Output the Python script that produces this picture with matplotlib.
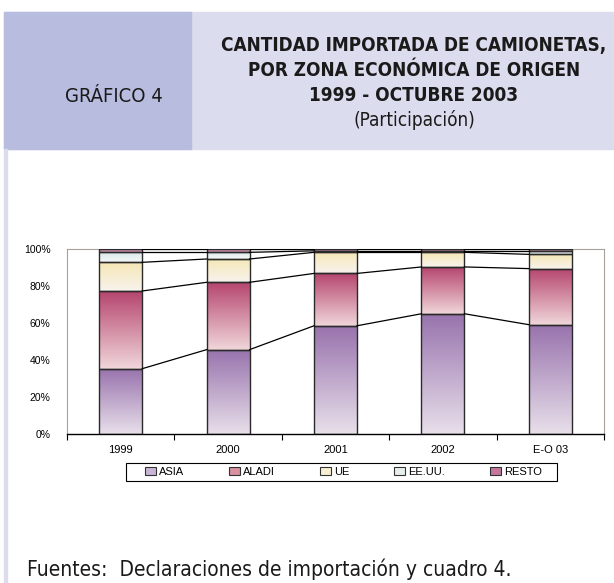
import numpy as np
import matplotlib
matplotlib.use("Agg")
import matplotlib.pyplot as plt
from matplotlib.colors import LinearSegmentedColormap
from matplotlib.patches import Rectangle

categories = ["1999", "2000", "2001", "2002", "E-O 03"]
series_names = ["ASIA", "ALADI", "UE", "EE.UU.", "RESTO"]
asia = [35.3, 45.6, 58.5, 65.0, 59.1]
aladi = [42.0, 36.4, 28.3, 25.3, 30.3]
ue = [15.5, 12.6, 11.4, 7.9, 7.7]
eeuu = [5.4, 3.6, 0.8, 0.8, 1.9]
resto = [1.8, 1.8, 1.0, 1.0, 1.0]
yticks = [0, 20, 40, 60, 80, 100]
ytick_labels = ["0%", "20%", "40%", "60%", "80%", "100%"]

values = [asia, aladi, ue, eeuu, resto]
# (top colour, bottom colour)
grad = [("#9873ad", "#e8dfea"),
        ("#b6466f", "#f0d6da"),
        ("#f5e7b5", "#f8f3ed"),
        ("#dbe8e9", "#f5f8f8"),
        ("#bb6690", "#d9a3bd")]
legend_colors = ["#c9b6d6", "#d9909f", "#f8efd2", "#e8eeee", "#c3789c"]

W, H = 614, 583
fig = plt.figure(figsize=(W / 100, H / 100), dpi=100)
fig.patch.set_facecolor("white")

def fx(px):
    return px / W

def fy(py):
    return 1 - py / H

# header band
fig.patches.append(Rectangle((fx(4), fy(149)), fx(610), (149 - 12) / H,
                             transform=fig.transFigure, color="#dcdcef", zorder=0))
fig.patches.append(Rectangle((fx(4), fy(149)), fx(187), (149 - 12) / H,
                             transform=fig.transFigure, color="#b8bcdf", zorder=0))
fig.patches.append(Rectangle((fx(4), 0), fx(3), fy(149),
                             transform=fig.transFigure, color="#dcdcef", zorder=0))

fam = ["DejaVu Sans"]
st = "condensed"
fig.text(fx(114), fy(96), "GRÁFICO 4", family=fam, stretch=st, fontsize=14.5,
         ha="center", va="center", color="#1a1a1a")
title_lines = ["CANTIDAD IMPORTADA DE CAMIONETAS,",
               "POR ZONA ECONÓMICA DE ORIGEN",
               "1999 - OCTUBRE 2003"]
ys = [45, 70, 95]
for t, yy in zip(title_lines, ys):
    fig.text(fx(414), fy(yy), t, family=fam, stretch=st, fontsize=13.6, weight="bold",
             ha="center", va="center", color="#1a1a1a")
fig.text(fx(414), fy(120), "(Participación)", family=fam, stretch=st, fontsize=13.6,
         ha="center", va="center", color="#1a1a1a")
fig.text(fx(27), fy(569), "Fuentes:  Declaraciones de importación y cuadro 4.",
         family=fam, stretch=st, fontsize=15, ha="left", va="center", color="#1a1a1a")

ax = fig.add_axes([fx(67), fy(434), fx(604 - 67), (434 - 249) / H])
x = np.arange(len(categories))
bw = 0.4
bottoms = np.zeros(len(categories))
for vals, (ctop, cbot), name in zip(values, grad, series_names):
    vals = np.array(vals)
    bars = ax.bar(x, vals, bw, bottom=bottoms, facecolor="none",
                  edgecolor="#2a2a2a", linewidth=1.0, zorder=3)
    cmap = LinearSegmentedColormap.from_list(name, [cbot, ctop])
    for rect in bars:
        x0, y0 = rect.get_x(), rect.get_y()
        w, h = rect.get_width(), rect.get_height()
        g = np.linspace(0, 1, 100).reshape(-1, 1)
        im = ax.imshow(g, cmap=cmap, origin="lower", aspect="auto",
                       extent=[x0, x0 + w, y0, y0 + h], zorder=2,
                       interpolation="bilinear")
        im.set_clip_path(rect)
    bottoms = bottoms + vals
    # connecting lines between bars
    for i in range(len(categories) - 1):
        ax.plot([x[i] + bw / 2, x[i + 1] - bw / 2], [bottoms[i], bottoms[i + 1]],
                color="black", linewidth=0.9, zorder=4)

ax.set_xlim(-0.5, len(categories) - 0.5)
ax.set_ylim(0, 100)
for s in ["left", "right", "top"]:
    ax.spines[s].set_color("#a8a09a")
    ax.spines[s].set_linewidth(0.8)
ax.spines["bottom"].set_color("black")
ax.spines["bottom"].set_linewidth(1.0)
ax.set_yticks(yticks)
ax.set_yticklabels(ytick_labels, fontsize=7.5, family="Liberation Sans")
ax.tick_params(axis="y", length=0, pad=12)
ax.set_xticks(np.arange(-0.5, len(categories), 1.0))
ax.set_xticklabels([])
ax.set_xticks(x, minor=True)
ax.set_xticklabels(categories, minor=True, fontsize=8, family="Liberation Sans")
ax.tick_params(axis="x", which="major", direction="out", length=4, width=0.8)
ax.tick_params(axis="x", which="minor", length=0, pad=8)

# legend frame
fig.patches.append(Rectangle((fx(126), fy(481)), fx(557 - 126), (481 - 463) / H,
                             transform=fig.transFigure, facecolor="white",
                             edgecolor="black", linewidth=0.8, zorder=1))
handles = [Rectangle((0, 0), 1, 1, facecolor=c, edgecolor="#333333", linewidth=0.8)
           for c in legend_colors]
leg = fig.legend(handles, series_names, loc="center left",
                 bbox_to_anchor=(fx(145), fy(472)),
                 ncol=5, frameon=False,
                 prop={"family": "Liberation Sans", "size": 8},
                 handlelength=1.0, handleheight=0.8, handletextpad=0.3,
                 borderpad=0.0, columnspacing=4.0, borderaxespad=0)
leg.set_zorder(5)

fig.savefig("out.png", dpi=100)
